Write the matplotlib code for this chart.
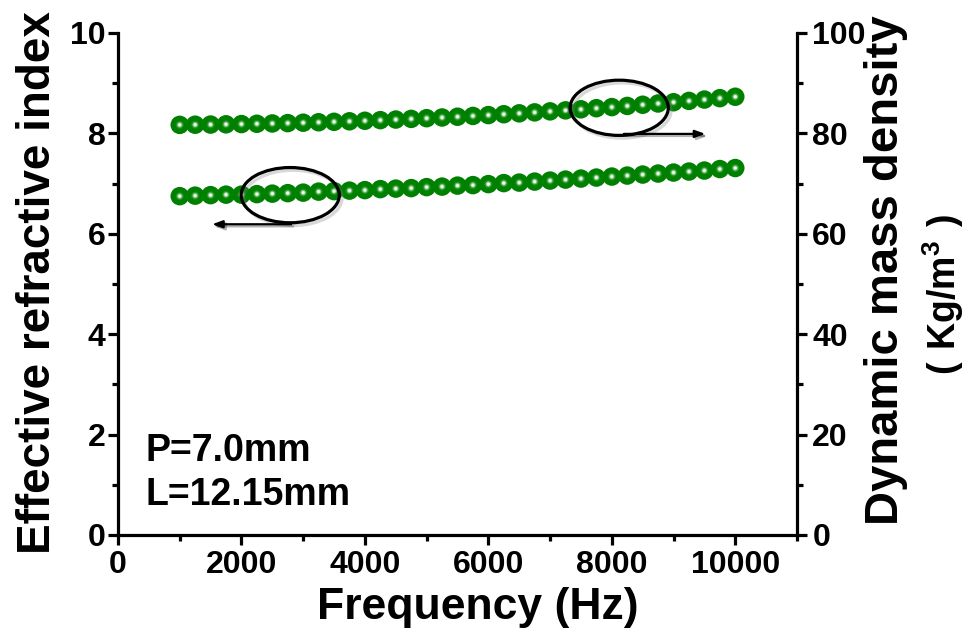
import matplotlib
matplotlib.use("Agg")
import matplotlib.pyplot as plt
import matplotlib.patheffects as pe
from matplotlib.patches import Ellipse
from matplotlib.ticker import MultipleLocator

plt.rcParams['font.family'] = ['Liberation Sans', 'Noto Sans CJK SC', 'DejaVu Sans']
plt.rcParams['font.weight'] = 'bold'
plt.rcParams['mathtext.fontset'] = 'custom'
plt.rcParams['mathtext.rm'] = 'Liberation Sans'
plt.rcParams['mathtext.bf'] = 'Liberation Sans:bold'

# ---------------- data ----------------
frequency = [1000, 1250, 1500, 1750, 2000, 2250, 2500, 2750, 3000, 3250,
             3500, 3750, 4000, 4250, 4500, 4750, 5000, 5250, 5500, 5750,
             6000, 6250, 6500, 6750, 7000, 7250, 7500, 7750, 8000, 8250,
             8500, 8750, 9000, 9250, 9500, 9750, 10000]

refractive_index = [6.75, 6.76, 6.77, 6.78, 6.78, 6.79, 6.80, 6.81, 6.82, 6.84,
                    6.85, 6.86, 6.87, 6.89, 6.90, 6.91, 6.93, 6.94, 6.96, 6.97,
                    6.99, 7.01, 7.02, 7.04, 7.06, 7.08, 7.10, 7.12, 7.14, 7.16,
                    7.18, 7.20, 7.22, 7.24, 7.26, 7.29, 7.31]

mass_density = [81.70, 81.73, 81.76, 81.81, 81.86, 81.92, 81.98, 82.05, 82.13, 82.22,
                82.31, 82.41, 82.52, 82.64, 82.76, 82.89, 83.03, 83.17, 83.32, 83.48,
                83.65, 83.82, 84.00, 84.19, 84.39, 84.59, 84.80, 85.02, 85.24, 85.47,
                85.71, 85.96, 86.21, 86.47, 86.74, 87.02, 87.30]

x_ticks = [0, 2000, 4000, 6000, 8000, 10000]
left_ticks = [0, 2, 4, 6, 8, 10]
right_ticks = [0, 20, 40, 60, 80, 100]
annotation_lines = ["P=7.0mm", "L=12.15mm"]

# ---------------- figure ----------------
fig = plt.figure(figsize=(9.74, 6.39), dpi=100)
W, H = 974, 639
ax1 = fig.add_axes([118 / W, 1 - 535 / H, (797 - 118) / W, (535 - 33) / H])
ax2 = ax1.twinx()

PT = 0.72  # points per pixel at 100 dpi

def spheres(ax, x, y):
    layers = [(18.5, '#008000', 1.0), (8.0, '#239623', 0.85), (5.5, '#7cc67c', 0.9),
              (3.6, '#d8f0d8', 1.0), (2.0, '#ffffff', 1.0)]
    for i, (d, c, a) in enumerate(layers):
        ax.scatter(x, y, s=(d * PT) ** 2, color=c, alpha=a, edgecolors='none',
                   zorder=3 + i)

spheres(ax1, frequency, refractive_index)
spheres(ax2, frequency, mass_density)

ax1.set_xlim(0, 11000)
ax1.set_ylim(0, 10)
ax2.set_ylim(0, 100)

lw_spine = 2.3
for ax in (ax1, ax2):
    ax.spines['top'].set_visible(False)
    for s in ('left', 'right', 'bottom'):
        ax.spines[s].set_linewidth(lw_spine)
ax1.spines['right'].set_visible(False)
ax2.spines['left'].set_visible(False)
ax2.spines['bottom'].set_visible(False)

ax1.set_xticks(x_ticks)
ax1.set_xticklabels([str(v) for v in x_ticks])
ax1.xaxis.set_minor_locator(MultipleLocator(1000))
ax1.set_yticks(left_ticks)
ax1.set_yticklabels([str(v) for v in left_ticks])
ax1.yaxis.set_minor_locator(MultipleLocator(1))
ax2.set_yticks(right_ticks)
ax2.set_yticklabels([str(v) for v in right_ticks])
ax2.yaxis.set_minor_locator(MultipleLocator(10))

ax1.tick_params(axis='x', which='major', direction='out', length=7, width=2.3,
                labelsize=23, pad=4)
ax1.tick_params(axis='x', which='minor', direction='out', length=4, width=2.3)
ax1.tick_params(axis='y', which='major', direction='out', length=7, width=2.3,
                labelsize=23, pad=2)
ax1.tick_params(axis='y', which='minor', direction='out', length=4, width=2.3)
ax2.tick_params(axis='y', which='major', direction='out', length=7, width=2.3,
                labelsize=23, pad=4)
ax2.tick_params(axis='y', which='minor', direction='out', length=4, width=2.3)
for lab in ax1.get_xticklabels() + ax1.get_yticklabels() + ax2.get_yticklabels():
    lab.set_fontweight('bold')

# axis labels
fig.text(478 / W, 1 - 607 / H, 'Frequency (Hz)', ha='center', va='center',
         fontsize=32, fontweight='bold')
fig.text(38 / W, 1 - 283 / H, 'Effective refractive index', ha='center', va='center',
         rotation=90, fontsize=33, fontweight='bold')
fig.text(886 / W, 1 - 270 / H, 'Dynamic mass density', ha='center', va='center',
         rotation=90, fontsize=34, fontweight='bold')
fig.text(943 / W, 1 - 295 / H, r'$\mathrm{(}\ \mathbf{Kg/m^{3}}\ \mathrm{)}$',
         ha='center', va='center', rotation=90, fontsize=27)

# parameter text
ax1.text(0.04, 0.167, annotation_lines[0], transform=ax1.transAxes,
         fontsize=27, fontweight='bold', ha='left', va='center')
ax1.text(0.04, 0.08, annotation_lines[1], transform=ax1.transAxes,
         fontsize=27, fontweight='bold', ha='left', va='center')

# ellipses and arrows (drawn on ax2, in right-axis units)
shadow = [pe.SimpleLineShadow(offset=(2, -2), shadow_color='gray', alpha=0.3),
          pe.Normal()]
e_low = Ellipse((2790, 67.7), 1590, 11.0, fill=False, edgecolor='black', lw=2.3,
                zorder=9, path_effects=shadow)
e_high = Ellipse((8120, 85.1), 1590, 11.0, fill=False, edgecolor='black', lw=2.3,
                 zorder=9, path_effects=shadow)
ax2.add_patch(e_low)
ax2.add_patch(e_high)

arrow_style = '-|>,head_length=0.6,head_width=0.22'
arrow_fx = [pe.SimpleLineShadow(offset=(1.5, -1.5), alpha=0.3), pe.Normal()]
ax2.annotate('', xy=(1480, 61.9), xytext=(2850, 61.9),
             arrowprops=dict(arrowstyle=arrow_style, color='black', lw=1.6,
                             path_effects=arrow_fx), zorder=9)
ax2.annotate('', xy=(9560, 79.9), xytext=(8150, 79.9),
             arrowprops=dict(arrowstyle=arrow_style, color='black', lw=1.6,
                             path_effects=arrow_fx), zorder=9)

fig.savefig('out.png', dpi=100)
